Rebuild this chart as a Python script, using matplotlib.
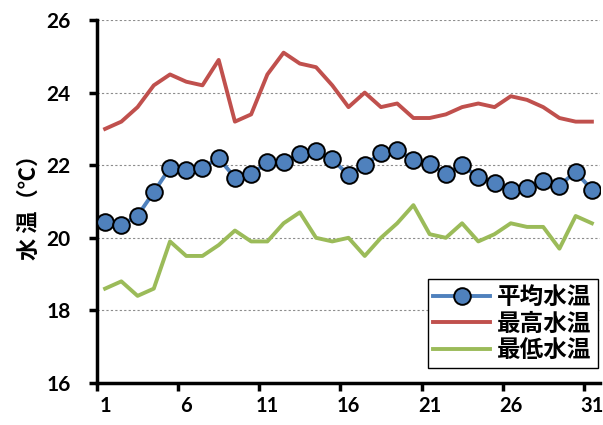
import matplotlib
matplotlib.use("Agg")
import matplotlib.pyplot as plt
from matplotlib.ticker import FixedLocator

plt.rcParams["font.family"] = ["Lato", "Noto Sans CJK JP", "DejaVu Sans"]

days = list(range(1, 32))
avg_temp = [20.43, 20.35, 20.61, 21.26, 21.93, 21.87, 21.93, 22.19, 21.66, 21.75,
            22.08, 22.08, 22.30, 22.39, 22.16, 21.73, 22.00, 22.33, 22.42, 22.14,
            22.03, 21.76, 22.00, 21.67, 21.52, 21.32, 21.38, 21.56, 21.44, 21.82,
            21.32]
max_temp = [23.0, 23.2, 23.6, 24.2, 24.5, 24.3, 24.2, 24.9, 23.2, 23.4,
            24.5, 25.1, 24.8, 24.7, 24.2, 23.6, 24.0, 23.6, 23.7, 23.3,
            23.3, 23.4, 23.6, 23.7, 23.6, 23.9, 23.8, 23.6, 23.3, 23.2,
            23.2]
min_temp = [18.6, 18.8, 18.4, 18.6, 19.9, 19.5, 19.5, 19.8, 20.2, 19.9,
            19.9, 20.4, 20.7, 20.0, 19.9, 20.0, 19.5, 20.0, 20.4, 20.9,
            20.1, 20.0, 20.4, 19.9, 20.1, 20.4, 20.3, 20.3, 19.7, 20.6,
            20.4]
x_labels = [1, 6, 11, 16, 21, 26, 31]
y_ticks = [16, 18, 20, 22, 24, 26]

fig = plt.figure(figsize=(6.03, 4.25), dpi=100)
ax = fig.add_axes([97 / 603, 1 - 383 / 425, (600 - 97) / 603, (383 - 20) / 425])

ax.plot(days, avg_temp, color="#4F81BD", linewidth=2.8, marker="o", markersize=12,
        markerfacecolor="#4F81BD", markeredgecolor="black", markeredgewidth=1.4,
        label="平均水温", zorder=4)
ax.plot(days, max_temp, color="#C0504D", linewidth=2.8, label="最高水温", zorder=3)
ax.plot(days, min_temp, color="#9BBB59", linewidth=2.8, label="最低水温", zorder=3)

ax.set_xlim(0.5, 31.5)
ax.set_ylim(16, 26)
ax.set_yticks(y_ticks)
ax.yaxis.grid(True, color="#8c8c8c", linestyle=(0, (2, 2)), linewidth=0.8)
ax.set_axisbelow(True)

# ticks between categories, labels on categories
ax.xaxis.set_major_locator(FixedLocator([0.5, 5.5, 10.5, 15.5, 20.5, 25.5, 30.5]))
ax.xaxis.set_major_formatter(plt.NullFormatter())
ax.xaxis.set_minor_locator(FixedLocator(x_labels))
ax.set_xticklabels([str(d) for d in x_labels], minor=True)
ax.tick_params(axis="x", which="major", direction="out", length=6, width=2.5)
ax.tick_params(axis="x", which="minor", length=0, pad=9, labelsize=14.5)
ax.tick_params(axis="y", direction="out", length=6, width=2.5, pad=13, labelsize=15)
for lab in ax.get_xticklabels(minor=True) + ax.get_yticklabels():
    lab.set_fontweight("bold")

for side in ("top", "right"):
    ax.spines[side].set_visible(False)
for side in ("left", "bottom"):
    ax.spines[side].set_linewidth(2.5)

ax.set_ylabel("水 温（℃）", fontsize=16, fontweight="bold",
              family=["Noto Sans CJK JP", "DejaVu Sans"], labelpad=4)

leg = ax.legend(loc="lower right", bbox_to_anchor=(1.0, 0.035), frameon=True,
                fancybox=False, edgecolor="black", framealpha=1,
                prop={"family": ["Noto Sans CJK JP"], "weight": "bold", "size": 17},
                handlelength=2.4, handletextpad=0.3, borderpad=0.25, labelspacing=0.1,
                borderaxespad=0.1)
leg.get_frame().set_linewidth(1.0)

fig.savefig("out.png", dpi=100)
